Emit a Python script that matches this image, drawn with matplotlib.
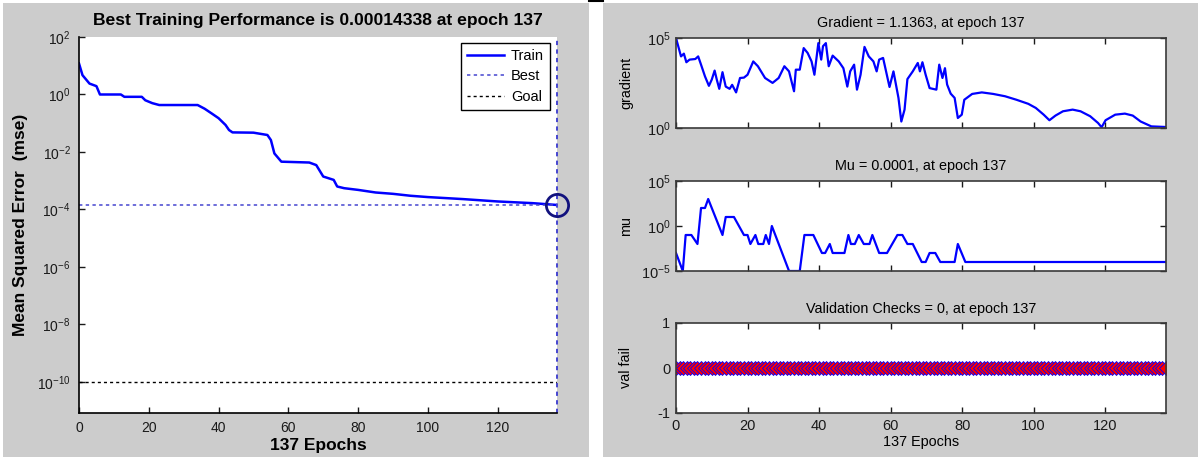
import numpy as np
import matplotlib
matplotlib.use("Agg")
import matplotlib.pyplot as plt
from matplotlib.patches import Rectangle
from matplotlib.lines import Line2D
from matplotlib.ticker import FixedLocator, NullLocator, LogFormatterMathtext

plt.rcParams['font.family'] = ['Liberation Sans', 'DejaVu Sans']
plt.rcParams['mathtext.fontset'] = 'custom'
plt.rcParams['mathtext.rm'] = 'Liberation Sans'
plt.rcParams['mathtext.it'] = 'Liberation Sans:italic'
plt.rcParams['mathtext.bf'] = 'Liberation Sans:bold'
plt.rcParams['axes.unicode_minus'] = False

# training record (epochs 0..137)
n_epochs = 137
best_epoch = 137
best_perf = 0.00014338
goal = 1e-10
final_grad = 1.1363
final_mu = 0.0001

perf_epochs = [0, 1, 3, 5, 6, 12, 13, 18, 19, 21, 23, 34, 36, 38, 40, 42, 43, 44, 50,
               54, 55, 56, 58, 66, 68, 70, 73, 74, 76, 80, 85, 90, 95, 100, 110, 120,
               130, 137]
perf_values = [12, 4.7, 2.4, 1.95, 1.0, 1.0, 0.83, 0.83, 0.63, 0.5, 0.43, 0.43, 0.32,
               0.22, 0.15, 0.087, 0.058, 0.048, 0.047, 0.039, 0.026, 0.0089, 0.0046,
               0.0043, 0.0035, 0.0014, 0.00107, 0.00063, 0.00055, 0.00048, 0.00039,
               0.00035, 0.00030, 0.00027, 0.00023, 0.00019, 0.000166, 0.00014338]

grad_epochs = [0, 0.9, 1.4, 2.2, 2.9, 3.8, 5.4, 6.2, 7.0, 8.1, 9.2, 10, 10.8, 11.4, 12.1,
               13, 13.9, 15, 15.7, 16.8, 17.9, 19, 20, 21.6, 22.9, 24.9, 27, 28.7, 30.3,
               31.6, 33, 33.5, 34.6, 35.7, 36.8, 37.9, 38.7, 39.8, 40.6, 41.1, 41.9, 42.7,
               43.8, 45.5, 46.8, 47.9, 48.7, 49.8, 50.6, 51.6, 52.7, 53.9, 55.2, 56.1,
               56.8, 57.9, 59.7, 60.8, 62.2, 63, 63.9, 64.7, 66.2, 67.6, 68.2, 68.9, 69.8,
               70.9, 72.8, 73.6, 74.5, 75.2, 75.8, 76.8, 77.9, 78.8, 79.9, 80.6, 82.8,
               85.5, 88.7, 92, 95.2, 98.5, 100.6, 102.8, 104.4, 106.1, 108.2, 110.9,
               113.1, 115.8, 118, 119, 120.1, 122.8, 125.5, 127.7, 129.9, 132.9, 137]
grad_values = [100000, 22000, 9500, 13500, 4500, 6300, 6800, 9500, 3300, 740, 220, 490,
               1550, 490, 150, 1260, 200, 150, 250, 95, 600, 630, 910, 5000, 2700, 600,
               320, 600, 2700, 1400, 110, 1740, 1740, 27500, 14800, 5000, 910, 52000,
               6300, 35000, 52000, 2700, 10500, 5000, 2100, 200, 1400, 3300, 135, 910,
               32000, 9500, 5000, 1400, 6300, 7800, 190, 1400, 47, 2.3, 10.5, 520, 1400,
               4100, 1400, 4500, 910, 165, 135, 3300, 600, 2100, 260, 81, 47, 3.6, 5.5,
               37, 78, 95, 78, 58, 37, 22, 13, 5.5, 2.7, 4.9, 8.5, 10.5, 8.5, 4.5, 1.9,
               1.1, 2.7, 5.5, 6.3, 4.9, 2.3, 1.23, 1.1363]

mu_epochs = [0, 1.9, 2.7, 4.3, 6, 7, 8.1, 9, 13, 13.9, 16.2, 19, 20, 20.8, 22.2, 23,
             24.4, 25.1, 26, 26.8, 31.6, 34.6, 35.9, 38.4, 40.8, 41.7, 43, 43.8, 47.1,
             48.2, 48.9, 50, 51.1, 52.5, 54.1, 54.9, 56.8, 59, 61.9, 63.3, 64.7, 66.2,
             68.7, 69.8, 70.9, 72.5, 73.9, 77.9, 78.8, 80.9, 137]
mu_values = [1e-3, 1e-5, 0.1, 0.1, 0.01, 100, 100, 1000, 0.1, 10, 10, 0.1, 0.1, 0.01,
             0.1, 0.01, 0.01, 0.1, 0.01, 1, 1e-5, 1e-5, 0.1, 0.1, 1e-3, 1e-3, 0.01,
             1e-3, 1e-3, 0.1, 0.01, 0.01, 0.1, 0.01, 0.01, 0.1, 1e-3, 1e-3, 0.1, 0.1,
             0.01, 0.01, 1e-4, 1e-4, 1e-3, 1e-3, 1e-4, 1e-4, 0.01, 1e-4, 1e-4]

val_epochs = list(range(n_epochs + 1))
val_fail = [0] * (n_epochs + 1)

W, H = 1198, 472
fig = plt.figure(figsize=(W / 100, H / 100), dpi=100)
fig.patch.set_facecolor('white')


def box(x0, y0, x1, y1):
    # pixel rectangle (top-left origin) -> figure fraction
    return [x0 / W, 1 - y1 / H, (x1 - x0) / W, (y1 - y0) / H]


gray = '#cccccc'
for b in (box(3, 3, 589, 457), box(603, 3, 1198, 457)):
    fig.add_artist(Rectangle((b[0], b[1]), b[2], b[3], transform=fig.transFigure,
                             facecolor=gray, edgecolor='none', zorder=-5))
fig.add_artist(Line2D([589 / W, 603 / W], [1 - 1 / H, 1 - 1 / H], transform=fig.transFigure,
                      color='k', lw=1.5))

# ---- performance plot ----
ax = fig.add_axes(box(79, 37, 557, 413))
best_color = '#4545d0'
ax.plot(perf_epochs, perf_values, color='b', lw=1.8, label='Train')
ax.axhline(best_perf, color=best_color, ls=(0, (2.2, 2.2)), lw=1.1, label='Best')
ax.axvline(best_epoch, color=best_color, ls=(0, (2.2, 2.2)), lw=1.4, clip_on=False)
ax.axhline(goal, color='k', ls=(0, (2.2, 2.2)), lw=1.0, label='Goal')
ax.plot([best_epoch], [best_perf], 'o', ms=16, mfc='none', mec='#12127e', mew=2.0,
        clip_on=False, zorder=5)
ax.set_yscale('log')
ax.set_xlim(0, n_epochs)
ax.set_ylim(10 ** -11.08, 1e2)
ax.yaxis.set_major_locator(FixedLocator([1e2, 1e0, 1e-2, 1e-4, 1e-6, 1e-8, 1e-10]))
ax.yaxis.set_major_formatter(LogFormatterMathtext())
ax.yaxis.set_minor_locator(NullLocator())
ax.set_xticks([0, 20, 40, 60, 80, 100, 120])
for s in ('top', 'right'):
    ax.spines[s].set_visible(False)
for s in ('left', 'bottom'):
    ax.spines[s].set_linewidth(1.2)
ax.tick_params(direction='in', length=4, width=1, labelsize=10, pad=6, colors='#1a1a1a')
ax.set_title('Best Training Performance is %.8f at epoch %d' % (best_perf, best_epoch),
             fontsize=12.6, fontweight='bold', pad=9)
ax.set_xlabel('%d Epochs' % n_epochs, fontsize=12.5, fontweight='bold', labelpad=2)
ax.set_ylabel('Mean Squared Error  (mse)', fontsize=12.5, fontweight='bold')
ax.yaxis.set_label_coords(-0.107, 0.5)
leg = ax.legend(loc='upper right', bbox_to_anchor=(0.985, 0.984), fancybox=False,
                edgecolor='k', framealpha=1, fontsize=10.5, handlelength=2.6,
                handletextpad=0.45, labelspacing=0.45, borderpad=0.4, borderaxespad=0)
leg.get_frame().set_linewidth(1.0)

# ---- training state plots ----
state_axes = [fig.add_axes(box(676, 38, 1166, 128)),
              fig.add_axes(box(676, 181, 1166, 271)),
              fig.add_axes(box(676, 323, 1166, 413))]
ga, ma, va = state_axes

ga.plot(grad_epochs, grad_values, color='b', lw=1.6)
ga.set_yscale('log')
ga.set_ylim(1, 1e5)
ga.yaxis.set_major_locator(FixedLocator([1e0, 1e5]))
ga.set_title('Gradient = %.4f, at epoch %d' % (final_grad, best_epoch), fontsize=10.4, pad=8)
ga.set_ylabel('gradient', fontsize=10.4)

ma.plot(mu_epochs, mu_values, color='b', lw=1.6)
ma.set_yscale('log')
ma.set_ylim(1e-5, 1e5)
ma.yaxis.set_major_locator(FixedLocator([1e-5, 1e0, 1e5]))
ma.set_title('Mu = %g, at epoch %d' % (final_mu, best_epoch), fontsize=10.4, pad=8)
ma.set_ylabel('mu', fontsize=10.4)

va.plot(val_epochs, val_fail, color='b', lw=1.2, marker='D', ms=7.5, mfc='r', mec='b',
        mew=0.6)
va.set_ylim(-1, 1)
va.set_yticks([-1, 0, 1])
va.set_title('Validation Checks = %d, at epoch %d' % (val_fail[-1], best_epoch),
             fontsize=10.4, pad=7)
va.set_ylabel('val fail', fontsize=10.4)
va.set_xlabel('%d Epochs' % n_epochs, fontsize=10.4, labelpad=2)

for a in state_axes:
    a.set_xlim(0, n_epochs)
    a.set_xticks([0, 20, 40, 60, 80, 100, 120])
    a.yaxis.set_minor_locator(NullLocator())
    if a is not va:
        a.yaxis.set_major_formatter(LogFormatterMathtext())
        a.tick_params(axis='x', labelbottom=False)
    a.tick_params(direction='in', top=True, right=True, length=4, width=1,
                  labelsize=10.5, pad=4, colors='#1a1a1a')
    for s in a.spines.values():
        s.set_color('#3a3a3a')
        s.set_linewidth(1.2)
    a.yaxis.set_label_coords(-0.088, 0.5)

fig.savefig('out.png', dpi=100, facecolor=fig.get_facecolor())
